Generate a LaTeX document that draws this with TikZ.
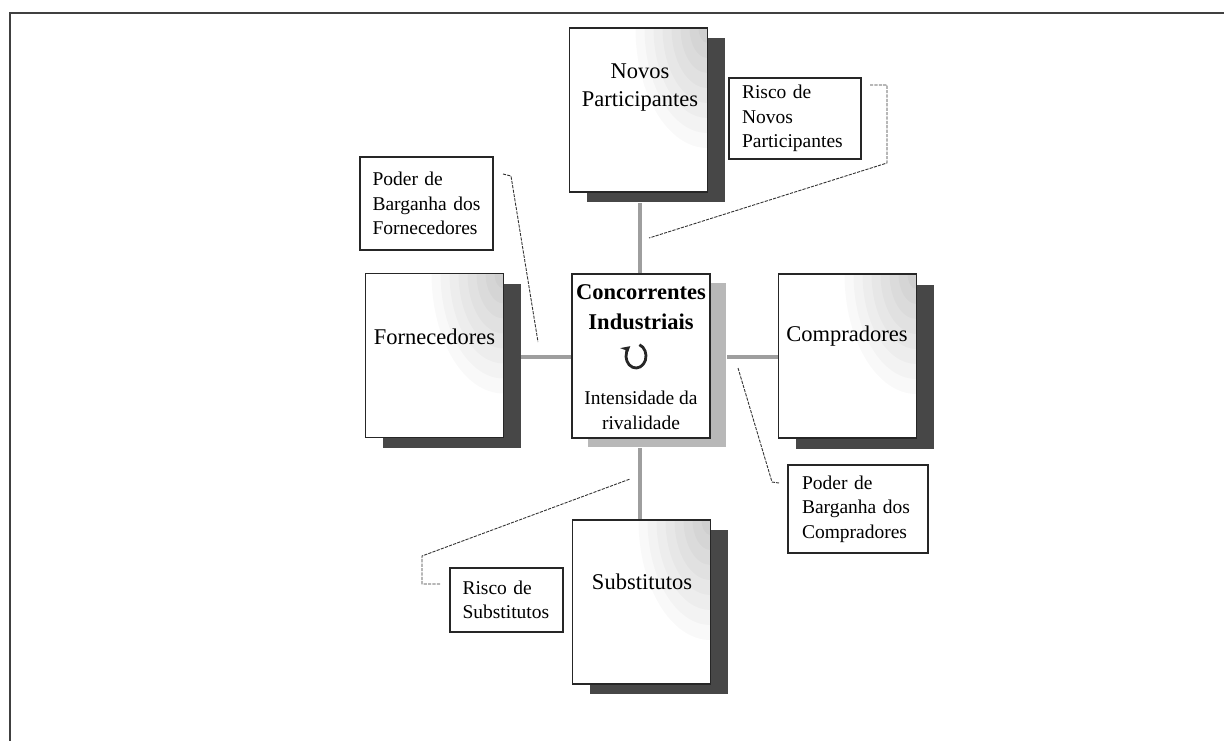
\documentclass[tikz,border=0pt]{standalone}
\usepackage{fontspec}
\setmainfont{Liberation Serif}
\usetikzlibrary{arrows.meta}
\begin{document}
\begin{tikzpicture}[x=0.5pt,y=-0.5pt,
  plainpanel/.style={draw=black!85, line width=0.75pt, fill=white,
    minimum width=69pt, minimum height=82pt, inner sep=0pt},
  panel/.style={plainpanel,
    path picture={\foreach \r in {6,12,...,48}
      {\fill[black, fill opacity=0.022] (path picture bounding box.north east) ellipse ({\r*0.75pt} and {\r*1.25pt});}}},
  shadowbox/.style={fill=#1, minimum width=69pt, minimum height=82pt, inner sep=0pt},
  link/.style={draw=black!38, line width=2pt},
  note/.style={draw=black!85, line width=0.6pt, fill=white, align=left,
    inner sep=0pt, font=\fontsize{9.75}{12.3}\selectfont},
  leader/.style={draw=black!80, line width=0.45pt, dash pattern=on 1.6pt off 0.6pt},
  bigtext/.style={font=\fontsize{11.25}{14}\selectfont, align=center, inner sep=0pt},
  smalltext/.style={font=\fontsize{9.75}{12.5}\selectfont, align=center, inner sep=0pt}
]
\useasboundingbox (0,0) rectangle (1224,740);
\clip (0,0) rectangle (1224,740);

% outer frame
\draw[black!75, line width=1pt] (10,760) -- (10,13) -- (1240,13);

% shadows
\node[shadowbox=black!72] (np-s) at (655.5,120) {};
\node[shadowbox=black!72] (fo-s) at (451.5,365.5) {};
\node[shadowbox=black!28] (cc-s) at (657,365) {};
\node[shadowbox=black!72] (co-s) at (864.5,367) {};
\node[shadowbox=black!72] (su-s) at (658.5,612) {};

% links between the forces
\draw[link] (640,203) -- (640,274);
\draw[link] (521,357) -- (572,357);
\draw[link] (727,357) -- (779,357);
\draw[link] (640,448) -- (640,520);

% panels
\node[panel] (np) at (638.5,110) {};
\node[panel] (fo) at (434.5,355.5) {};
\node[plainpanel] (cc) at (641,356) {};
\node[panel] (co) at (847.5,356) {};
\node[panel] (su) at (641.5,602) {};

% panel texts
\node[bigtext] (np-t) at (640,88) {Novos\\Participantes};
\node[bigtext] (fo-t) at (434.5,337) {Fornecedores};
\node[bigtext] (co-t) at (847,336) {Compradores};
\node[bigtext] (su-t) at (642,582) {Substitutos};
\node[bigtext, font=\fontsize{11.25}{15}\selectfont\bfseries] (cc-t) at (641,307) {Concorrentes\\Industriais};
\node[smalltext] (cc-r) at (641,410.5) {Intensidade da\\rivalidade};

% rotation symbol (y axis points down, so angles run clockwise on the page)
\coordinate (rot) at (636,356);
\draw[black!85, line width=1.4pt, -{Stealth[length=4.5pt,width=5pt]}]
  ([shift={(-70:10 and 12)}]rot) arc[start angle=-70, end angle=235, x radius=10, y radius=12];

% callout boxes
\node[note, minimum width=66.5pt, minimum height=46.5pt, text width=54pt] (n-fo) at (426.5,203.5)
  {Poder de\\Barganha dos\\Fornecedores};
\node[note, minimum width=66pt, minimum height=40.5pt, text width=53pt] (n-np) at (795,118.5)
  {Risco de\\Novos\\Participantes};
\node[note, minimum width=70pt, minimum height=44pt, text width=56pt] (n-co) at (858,509)
  {Poder de\\Barganha dos\\Compradores};
\node[note, minimum width=56.5pt, minimum height=32pt, text width=44pt] (n-su) at (506.5,600)
  {Risco de\\Substitutos};

% leader lines
\coordinate (l-fo-a) at (503,174);
\coordinate (l-fo-b) at (538,342);
\draw[leader] (l-fo-a) -- (511,176) -- (l-fo-b);

\coordinate (l-np-a) at (870,85);
\coordinate (l-np-b) at (649,238);
\draw[leader] (l-np-a) -- (887,85) -- (887,163) -- (l-np-b);

\coordinate (l-co-a) at (738,368);
\coordinate (l-co-b) at (779,483);
\draw[leader] (l-co-a) -- (772,482) -- (l-co-b);

\coordinate (l-su-a) at (440,584);
\coordinate (l-su-b) at (630,479);
\draw[leader] (l-su-a) -- (422,584) -- (422,556) -- (l-su-b);
\end{tikzpicture}
\end{document}
